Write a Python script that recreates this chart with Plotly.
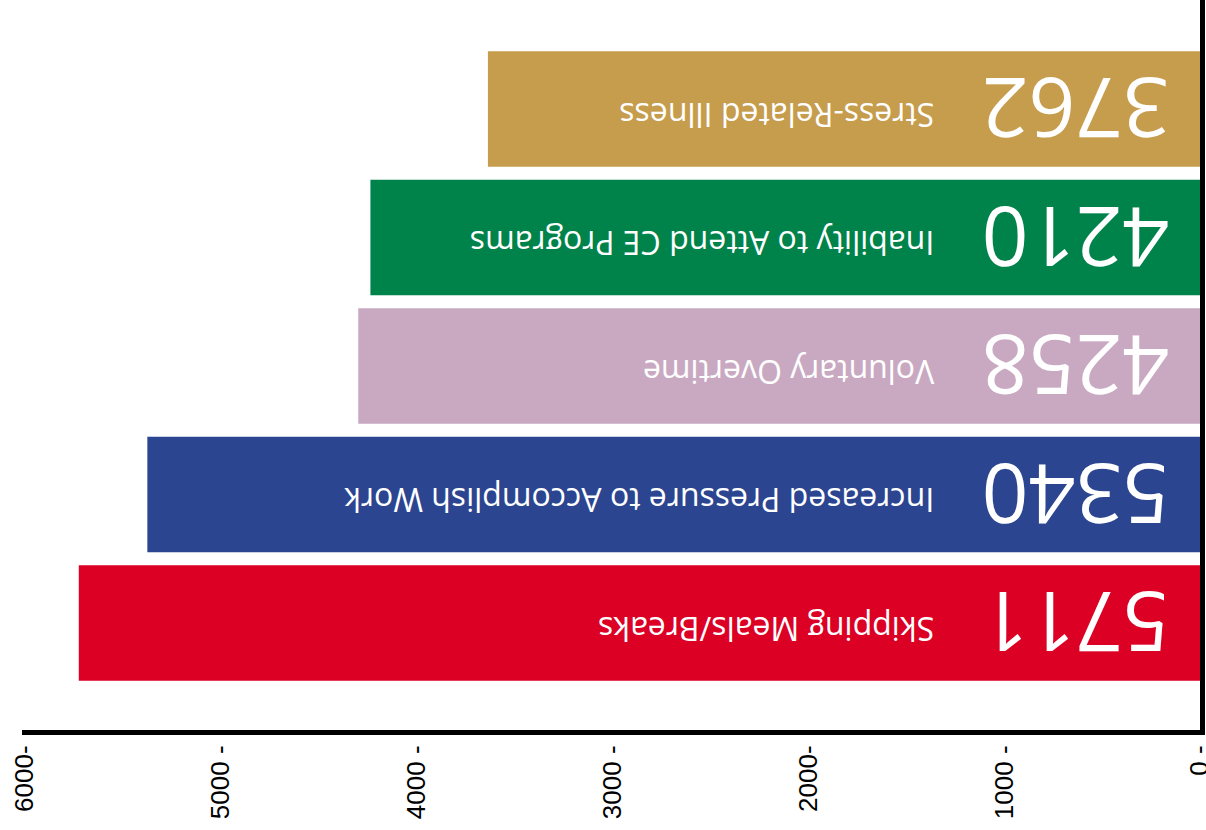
import plotly.graph_objects as go

# Categories listed bottom-to-top
categories = [
    "Skipping Meals/Breaks",
    "Increased Pressure to Accomplish Work",
    "Voluntary Overtime",
    "Inability to Attend CE Programs",
    "Stress-Related Illness",
]
# bar lengths as drawn in the picture
values = [5725, 5375, 4298, 4236, 3636]
# numbers printed on the bars
value_labels = ["5711", "5340", "4258", "4210", "3762"]
colors = ["#DC0025", "#2B4590", "#C9A9C2", "#00834A", "#C69C4D"]
tick_vals = [0, 1000, 2000, 3000, 4000, 5000, 6000]
tick_text = ["0 -", "1000 -", "2000-", "3000 -", "4000 -", "5000 -", "6000-"]

fig = go.Figure()
fig.add_trace(go.Bar(
    x=values,
    y=categories,
    orientation="h",
    marker=dict(color=colors, line=dict(width=0)),
    hoverinfo="skip",
))

annotations = []
for cat, lab in zip(categories, value_labels):
    annotations.append(dict(
        x=145, y=cat, xref="x", yref="y", text=lab, showarrow=False,
        textangle=180, xanchor="right", yanchor="middle", yshift=-1,
        font=dict(family="Open Sans", size=82, color="white"),
    ))
    annotations.append(dict(
        x=1345, y=cat, xref="x", yref="y", text=cat, showarrow=False,
        textangle=180, xanchor="right", yanchor="middle", yshift=-6,
        font=dict(family="Open Sans", size=32, color="white"),
    ))

fig.update_layout(
    width=1206, height=830,
    margin=dict(l=22, r=6, t=0, b=100, autoexpand=False),
    paper_bgcolor="white", plot_bgcolor="white",
    showlegend=False,
    bargap=0.1,
    annotations=annotations,
    xaxis=dict(
        range=[6015, 0],
        tickvals=tick_vals, ticktext=tick_text,
        tickangle=-90, ticks="",
        ticklabeloverflow="allow",
        automargin=False,
        tickfont=dict(family="Liberation Sans", size=26, color="black"),
        showgrid=False, zeroline=False,
        showline=True, linewidth=5, linecolor="black",
    ),
    yaxis=dict(
        categoryorder="array", categoryarray=categories,
        range=[-0.833, 4.848],
        side="right", showticklabels=False, ticks="",
        automargin=False,
        showgrid=False, zeroline=False,
        showline=True, linewidth=5, linecolor="black",
    ),
)

fig.write_html(
    "out.html",
    config={"displayModeBar": False},
    post_script="document.body.style.margin='0';",
)
